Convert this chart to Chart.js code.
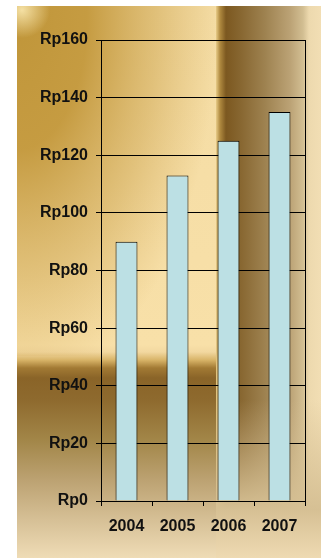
<!DOCTYPE html>
<html>
<head>
<meta charset="utf-8">
<script src="https://cdn.jsdelivr.net/npm/chart.js@4"></script>
<style>
  html, body { margin: 0; padding: 0; background: #fff; }
  #wrap { position: relative; width: 321px; height: 558px; }
</style>
</head>
<body>
<div id="wrap"><canvas id="priceChart"></canvas></div>
<script>
// chart data
var years = ['2004', '2005', '2006', '2007'];
var prices = [90, 113, 125, 135];
var yMin = 0;
var yMax = 160;
var yStep = 20;

Chart.defaults.font.family = '"Liberation Sans", Arial, sans-serif';

// gold metallic backdrop, painted before anything else
var goldBackground = {
    id: 'goldBackground',
    beforeDraw: function (chart) {
        var ctx = chart.ctx;
        var H = chart.height;
        var W = chart.width;
        var left = 17, top = 6, split = 216;
        var vy = function (y) { return (y - top) / (H - top); };
        var hx = function (x) { return (x - split) / (W - split); };

        ctx.save();

        // left panel, vertical tones with the dark band
        var g = ctx.createLinearGradient(0, top, 0, H);
        [[6, '#F4DCA4'], [345, '#F8E0A8'], [352, '#F2D8A0'], [360, '#D8B468'],
         [368, '#A27A34'], [378, '#8A6428'], [400, '#8E6A2E'], [440, '#A28648'],
         [480, '#BCA272'], [520, '#D6C096'], [558, '#EFDCB6']].forEach(function (s) {
            g.addColorStop(vy(s[0]), s[1]);
        });
        ctx.fillStyle = g;
        ctx.fillRect(left, top, split - left, H - top);

        // gold sheen in the upper left
        ctx.save();
        ctx.beginPath();
        ctx.rect(left, top, split - left, 350);
        ctx.clip();
        ctx.translate(left, 20);
        ctx.scale(1, 1.85);
        var r = ctx.createRadialGradient(0, 0, 0, 0, 0, 200);
        r.addColorStop(0, 'rgba(192,150,58,1)');
        r.addColorStop(0.35, 'rgba(195,152,60,0.95)');
        r.addColorStop(0.7, 'rgba(205,165,80,0.5)');
        r.addColorStop(1, 'rgba(210,170,90,0)');
        ctx.fillStyle = r;
        ctx.fillRect(0, -20, 220, 220);
        ctx.restore();

        // small highlight at the top left corner
        var hl = ctx.createRadialGradient(22, 10, 0, 22, 10, 28);
        hl.addColorStop(0, 'rgba(250,232,175,0.9)');
        hl.addColorStop(1, 'rgba(250,232,175,0)');
        ctx.fillStyle = hl;
        ctx.fillRect(left, top, 50, 50);

        // right panel, dark stripe fading to light
        var h = ctx.createLinearGradient(split, 0, W, 0);
        [[216, '#E8CC88'], [220, '#B08A40'], [226, '#7C5820'], [240, '#876630'],
         [265, '#9E8250'], [290, '#BBA275'], [303, '#D2BE92'], [309, '#EDD9AE'],
         [321, '#F2DEB4']].forEach(function (s) {
            h.addColorStop(hx(s[0]), s[1]);
        });
        ctx.fillStyle = h;
        ctx.fillRect(split, top, W - split, H - top);

        var fade = ctx.createLinearGradient(0, top, 0, H);
        fade.addColorStop(0, 'rgba(214,192,148,0)');
        fade.addColorStop(vy(400), 'rgba(214,192,148,0)');
        fade.addColorStop(vy(510), 'rgba(214,192,148,1)');
        fade.addColorStop(1, 'rgba(238,218,178,1)');
        ctx.fillStyle = fade;
        ctx.fillRect(split, top, W - split, H - top);

        ctx.restore();
    }
};

// right edge of the plot frame
var plotFrame = {
    id: 'plotFrame',
    afterDatasetsDraw: function (chart) {
        var a = chart.chartArea;
        var ctx = chart.ctx;
        var x = Math.floor(a.right) + 0.5;
        ctx.save();
        ctx.strokeStyle = '#000';
        ctx.lineWidth = 1;
        ctx.beginPath();
        ctx.moveTo(x, a.top);
        ctx.lineTo(x, a.bottom);
        ctx.stroke();
        ctx.restore();
    }
};

var ctx = document.getElementById('priceChart').getContext('2d');
var priceChart = new Chart(ctx, {
    type: 'bar',
    data: {
        labels: years,
        datasets: [{
            data: prices,
            backgroundColor: '#BCE0E4',
            borderColor: '#000',
            borderWidth: 1,
            barPercentage: 0.43,
            categoryPercentage: 1
        }]
    },
    options: {
        responsive: true,
        maintainAspectRatio: false,
        animation: false,
        layout: { padding: { top: 40, right: 16, left: 0, bottom: 0 } },
        plugins: {
            legend: { display: false },
            tooltip: { enabled: false }
        },
        scales: {
            x: {
                grid: { drawOnChartArea: false, color: '#000', tickLength: 5 },
                border: { color: '#000' },
                ticks: { color: '#111', font: { size: 16, weight: 'bold' }, padding: 11, maxRotation: 0 },
                afterFit: function (scale) { scale.height = 57; }
            },
            y: {
                min: yMin,
                max: yMax,
                grid: { color: '#000', tickLength: 5 },
                border: { color: '#000' },
                ticks: {
                    stepSize: yStep,
                    color: '#111',
                    padding: 8,
                    font: { size: 16, weight: 'bold' },
                    callback: function (value) { return 'Rp' + value; }
                },
                afterFit: function (scale) { scale.width = 101; }
            }
        }
    },
    plugins: [goldBackground, plotFrame]
});
</script>
</body>
</html>
